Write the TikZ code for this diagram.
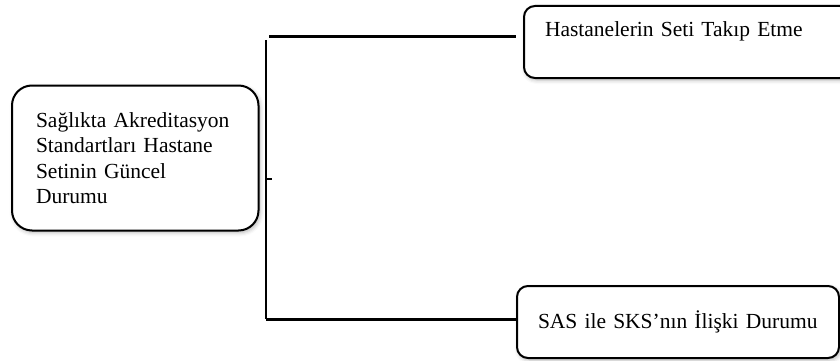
\documentclass[tikz,border=0pt]{standalone}
\usepackage{fontspec}
\setmainfont{Liberation Serif}
\usetikzlibrary{positioning, calc, shadows.blur}
\tikzset{
  topic/.style={
    rectangle, rounded corners=20pt, draw=black, line width=2pt, fill=white,
    minimum width=246.5pt, minimum height=145pt, inner xsep=24pt,
    text width=198.5pt, align=left,
    font=\fontsize{21.5}{25.3}\selectfont,
    blur shadow={shadow xshift=1.5pt, shadow yshift=-2pt, shadow blur radius=4pt, shadow opacity=30}
  },
  branch/.style={
    rectangle, rounded corners=11pt, draw=black, line width=2pt, fill=white,
    inner ysep=0pt, inner xsep=21pt, align=left,
    font=\fontsize{21.5}{25.3}\selectfont,
    blur shadow={shadow xshift=1.5pt, shadow yshift=-2pt, shadow blur radius=4pt, shadow opacity=30}
  },
  link/.style={line width=3pt, color=black}
}
\begin{document}
\begin{tikzpicture}[x=1pt, y=-1pt]
\useasboundingbox (0,0) rectangle (840,361);
\clip (0,0) rectangle (840,361);
% main topic on the left
\node[topic] (status) at (135.25,158) {Sağlıkta Akreditasyon\\Standartları Hastane\\Setinin Güncel\\Durumu};
% two branches on the right
\node[branch, anchor=north west, text width=285pt, text height=31pt, text depth=41pt] (follow) at (523,5) {Hastanelerin Seti Takıp Etme};
\node[branch, anchor=north west, text width=280pt, text height=42pt, text depth=30pt] (relation) at (516,285) {SAS ile SKS’nın İlişki Durumu};
% trunk
\coordinate (trunkTop) at (266,40);
\coordinate (trunkBot) at (266,319);
\coordinate (trunkMid) at (266,179);
\coordinate (armTop) at (269,37);
\draw[line width=2.5pt] (trunkTop) -- (trunkBot);
\draw[link, shorten >=7pt] (armTop) -- (armTop -| follow.west);
\draw[link] (trunkBot) -- (trunkBot -| relation.west);
\draw[line width=2.5pt] (trunkMid) -- ++(6,0);
\end{tikzpicture}
\end{document}
